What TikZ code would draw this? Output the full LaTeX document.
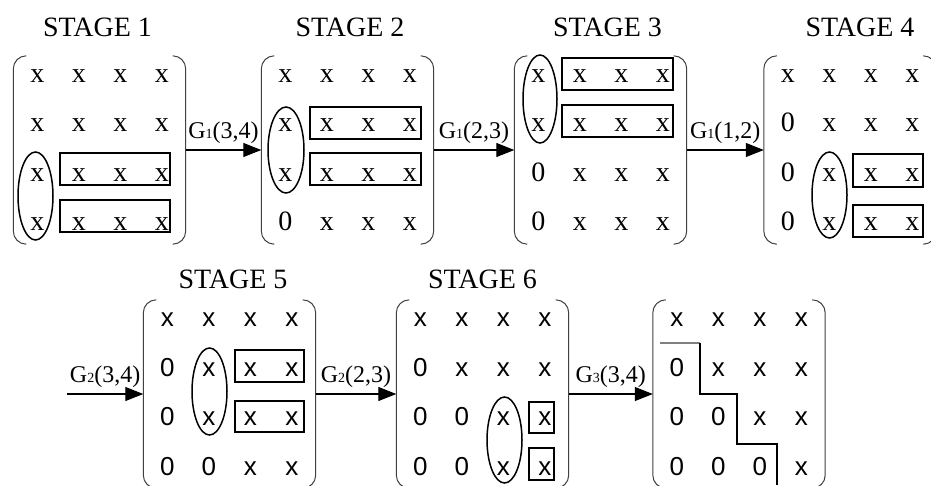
\documentclass[tikz,border=0pt]{standalone}
\usepackage{fontspec}
\setmainfont{Liberation Serif}
\setsansfont{Liberation Sans}
\usetikzlibrary{matrix,arrows.meta}

\begin{document}
\begin{tikzpicture}[x=1pt,y=-1pt,
  mtop/.style={matrix of nodes, inner xsep=3pt, inner ysep=-5pt,
    nodes={minimum width=41.5pt, minimum height=49.5pt, inner sep=0pt,
      text height=13pt, text depth=0pt, font=\fontsize{28}{28}\selectfont}},
  mbot/.style={mtop, nodes={text height=14pt, font=\sffamily\fontsize{26}{26}\selectfont}},
  paren/.style={line width=1pt, black!75, rounded corners=13pt},
  conn/.style={-{Triangle[length=18pt,width=14pt]}, line width=1.1pt},
  lab/.style={font=\fontsize{24}{24}\selectfont, above=3pt},
  stage/.style={font=\fontsize{28}{28}\selectfont, anchor=base},
  ring/.style={line width=1.5pt},
  boxed/.style={line width=1.1pt}]
\useasboundingbox (0,0) rectangle (931,485);

\node[stage] (s1) at (97.5,36) {STAGE 1};
\node[stage] (s2) at (350,36) {STAGE 2};
\node[stage] (s3) at (607.5,36) {STAGE 3};
\node[stage] (s4) at (860,36) {STAGE 4};
\node[stage] (s5) at (233,288) {STAGE 5};
\node[stage] (s6) at (482.5,288) {STAGE 6};

\matrix (m1) at (99.5,150) [mtop] {
x & x & x & x \\
x & x & x & x \\
x & x & x & x \\
x & x & x & x \\
};
\matrix (m2) at (347.5,150) [mtop] {
x & x & x & x \\
x & x & x & x \\
x & x & x & x \\
0 & x & x & x \\
};
\matrix (m3) at (600.5,150) [mtop] {
x & x & x & x \\
x & x & x & x \\
0 & x & x & x \\
0 & x & x & x \\
};
\matrix (m4) at (850,150) [mtop] {
x & x & x & x \\
0 & x & x & x \\
0 & x & x & x \\
0 & x & x & x \\
};
\matrix (m5) at (229.5,394) [mbot] {
x & x & x & x \\
0 & x & x & x \\
0 & x & x & x \\
0 & 0 & x & x \\
};
\matrix (m6) at (482.5,394) [mbot] {
x & x & x & x \\
0 & x & x & x \\
0 & 0 & x & x \\
0 & 0 & x & x \\
};
\matrix (m7) at (739,394) [mbot] {
x & x & x & x \\
0 & x & x & x \\
0 & 0 & x & x \\
0 & 0 & 0 & x \\
};

\foreach \m in {m1,m2,m3,m4,m5,m6,m7} {
  \draw[paren] ([xshift=13pt]\m.north west) -- (\m.north west) -- (\m.south west) -- ([xshift=13pt]\m.south west);
  \draw[paren] ([xshift=-13pt]\m.north east) -- (\m.north east) -- (\m.south east) -- ([xshift=-13pt]\m.south east);
}

\draw[ring] (35.5,196) ellipse (17.5 and 44);
\draw[boxed] (60,153) rectangle (170,185);
\draw[boxed] (60,200) rectangle (170,232);

\draw[ring] (286,150) ellipse (18 and 43);
\draw[boxed] (310,107) rectangle (421,139);
\draw[boxed] (310,153) rectangle (421,185);

\draw[ring] (540,99) ellipse (17 and 44);
\draw[boxed] (562,58) rectangle (673,90);
\draw[boxed] (562,105) rectangle (673,137);

\draw[ring] (829.5,195) ellipse (17.5 and 43);
\draw[boxed] (853,154) rectangle (923,187);
\draw[boxed] (853,205) rectangle (923,237);

\draw[ring] (209.5,391.5) ellipse (17.5 and 43.5);
\draw[boxed] (235,350) rectangle (304,382);
\draw[boxed] (235,401) rectangle (304,432);

\draw[ring] (504.5,440) ellipse (17.5 and 43);
\draw[boxed] (529,402) rectangle (554,433);
\draw[boxed] (529,448) rectangle (554,480);

\draw[boxed, gray] (660,343) -- (700,343);
\draw[boxed] (700,343) -- (700,394) -- (737,394) -- (737,444) -- (777,444) -- (777,485);

\coordinate (in5) at (67,394);
\draw[conn] (m1) -- node[lab] {G{\fontsize{14}{14}\selectfont 1}(3,4)} (m2);
\draw[conn] (m2) -- node[lab] {G{\fontsize{14}{14}\selectfont 1}(2,3)} (m3);
\draw[conn] (m3) -- node[lab] {G{\fontsize{14}{14}\selectfont 1}(1,2)} (m4);
\draw[conn] (in5) -- node[lab] {G{\fontsize{14}{14}\selectfont 2}(3,4)} (m5);
\draw[conn] (m5) -- node[lab] {G{\fontsize{14}{14}\selectfont 2}(2,3)} (m6);
\draw[conn] (m6) -- node[lab] {G{\fontsize{14}{14}\selectfont 3}(3,4)} (m7);
\end{tikzpicture}
\end{document}
